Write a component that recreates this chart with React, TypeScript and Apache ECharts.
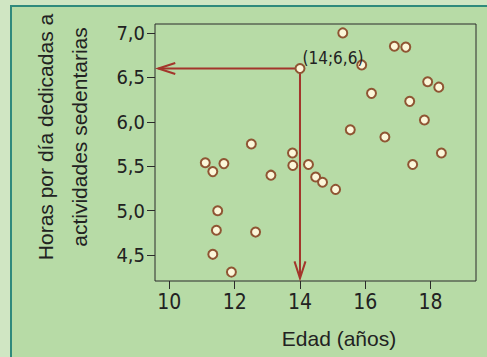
import React, { useEffect, useRef } from "react";
import * as echarts from "echarts";

// Edad (años)
const ages = [
  15.31, 16.89, 17.24, 14.0, 15.89, 17.91, 18.25, 16.19, 17.36, 17.81,
  15.54, 16.6, 12.51, 13.77, 18.33, 11.1, 11.67, 11.33, 13.78, 14.26,
  17.45, 13.11, 14.48, 14.69, 15.09, 11.48, 11.44, 12.64, 11.33, 11.9,
];
// Horas por día dedicadas a actividades sedentarias
const hours = [
  7.0, 6.85, 6.84, 6.6, 6.64, 6.45, 6.39, 6.32, 6.23, 6.02,
  5.91, 5.83, 5.75, 5.65, 5.65, 5.54, 5.53, 5.44, 5.51, 5.52,
  5.52, 5.4, 5.38, 5.32, 5.24, 5.0, 4.78, 4.76, 4.51, 4.31,
];
const xTicks = [10, 12, 14, 16, 18];
const yTicks = [4.5, 5.0, 5.5, 6.0, 6.5, 7.0];
const highlighted = [14, 6.6];
const highlightLabel = "(14;6,6)";
const arrowTipX = 9.66;
const arrowTipY = 4.24;
const xRange = [9.56, 19.39];
const yRange = [4.21, 7.1];

const FONT = "'Liberation Sans', Arial, sans-serif";
const NARROW = "'Liberation Sans Narrow', 'DejaVu Sans Condensed', 'Liberation Sans', sans-serif";

export default function App() {
  const ref = useRef<HTMLDivElement>(null);
  useEffect(() => {
    if (!ref.current) return;
    const chart = echarts.init(ref.current, undefined, { renderer: "svg" });
    const points = ages.map((a, i) => {
      const isHi = a === highlighted[0] && hours[i] === highlighted[1];
      return isHi
        ? {
            value: [a, hours[i]],
            label: {
              show: true,
              formatter: highlightLabel,
              position: "right",
              distance: -3,
              offset: [0, -10],
              fontSize: 17,
              color: "#222",
              fontFamily: NARROW,
            },
          }
        : { value: [a, hours[i]] };
    });
    chart.setOption({
      animation: false,
      backgroundColor: "transparent",
      grid: {
        left: 155,
        top: 24,
        width: 321,
        height: 257,
        show: true,
        borderColor: "#2b2b2b",
        borderWidth: 1,
        backgroundColor: "transparent",
      },
      xAxis: {
        type: "value",
        min: xRange[0],
        max: xRange[1],
        axisLine: { show: false },
        splitLine: { show: false },
        axisTick: {
          show: true,
          length: 8,
          customValues: xTicks,
          lineStyle: { color: "#2b2b2b", width: 1 },
        },
        axisLabel: {
          customValues: xTicks,
          margin: 10,
          fontSize: 21,
          color: "#222",
          fontFamily: NARROW,
        },
      },
      yAxis: {
        type: "value",
        min: yRange[0],
        max: yRange[1],
        axisLine: { show: false },
        splitLine: { show: false },
        axisTick: {
          show: true,
          length: 8,
          customValues: yTicks,
          lineStyle: { color: "#2b2b2b", width: 1 },
        },
        axisLabel: {
          customValues: yTicks,
          margin: 10,
          fontSize: 20,
          color: "#222",
          fontFamily: NARROW,
          formatter: (v: number) => v.toFixed(1).replace(".", ","),
        },
      },
      graphic: [
        {
          type: "text",
          x: 62,
          y: 137,
          rotation: Math.PI / 2,
          style: {
            text: "Horas por día dedicadas a\nactividades sedentarias",
            fontSize: 21,
            lineHeight: 34,
            fontFamily: FONT,
            fill: "#222",
            align: "center",
            verticalAlign: "middle",
          },
        },
        {
          type: "text",
          x: 339,
          y: 338,
          style: {
            text: "Edad (años)",
            fontSize: 21,
            fontFamily: FONT,
            fill: "#222",
            align: "center",
            verticalAlign: "middle",
          },
        },
      ],
      series: [
        {
          type: "custom",
          z: 1,
          silent: true,
          data: [[highlighted[0], highlighted[1]]],
          renderItem: (params: any, api: any) => {
            const p = api.coord([highlighted[0], highlighted[1]]);
            const a = api.coord([arrowTipX, highlighted[1]]);
            const b = api.coord([highlighted[0], arrowTipY]);
            const style = { stroke: "#a3352b", lineWidth: 2, fill: "none" };
            return {
              type: "group",
              children: [
                { type: "polyline", shape: { points: [a, p, b] }, style },
                {
                  type: "polyline",
                  shape: { points: [[a[0] + 17, a[1] - 5.5], a, [a[0] + 17, a[1] + 5.5]] },
                  style,
                },
                {
                  type: "polyline",
                  shape: { points: [[b[0] - 5.5, b[1] - 17], b, [b[0] + 5.5, b[1] - 17]] },
                  style,
                },
              ],
            };
          },
        },
        {
          type: "scatter",
          z: 5,
          symbol: "circle",
          symbolSize: 9,
          itemStyle: { color: "#fcf7da", borderColor: "#8f5533", borderWidth: 2, opacity: 1 },
          data: points,
        },
      ],
    });
    return () => chart.dispose();
  }, []);

  return (
    <div style={{ position: "fixed", left: 0, top: 0, width: 487, height: 357, background: "#d0e6c3", overflow: "hidden" }}>
      <div
        style={{
          position: "absolute",
          left: 10,
          top: 5,
          width: 477,
          height: 352,
          background: "#b7dba6",
          borderLeft: "2px solid #2f8a7c",
          borderTop: "2px solid #2f8a7c",
          boxSizing: "border-box",
        }}
      />
      <div ref={ref} style={{ position: "absolute", left: 0, top: 0, width: 487, height: 357 }} />
    </div>
  );
}
